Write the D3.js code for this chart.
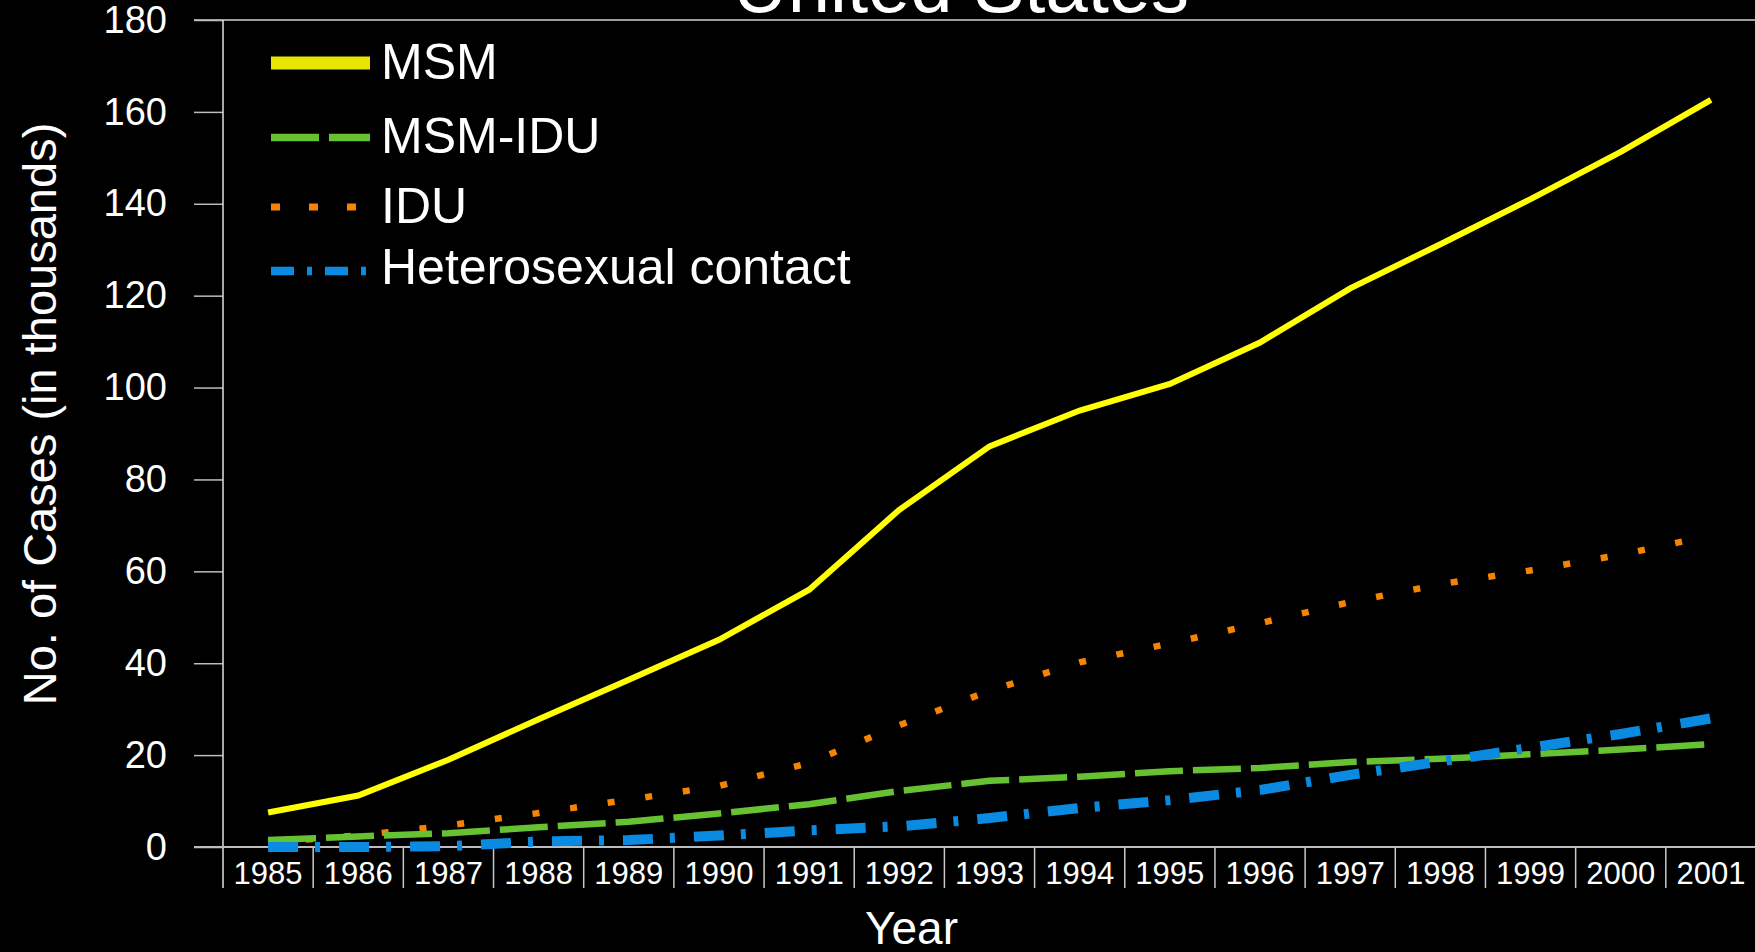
<!DOCTYPE html>
<html>
<head>
<meta charset="utf-8">
<script src="https://cdn.jsdelivr.net/npm/d3@7"></script>
<style>
  html, body { margin: 0; padding: 0; background: #000; overflow: hidden; }
  svg { display: block; font-family: "Liberation Sans", Arial, sans-serif; }
</style>
</head>
<body>
<div id="chart"></div>
<script>
// Years on the x axis
const years = ["1985", "1986", "1987", "1988", "1989", "1990", "1991", "1992", "1993",
  "1994", "1995", "1996", "1997", "1998", "1999", "2000", "2001"]

// Cases in thousands
const msm = [7.5, 11.2, 19, 27.8, 36.4, 45.1, 56, 73.4, 87.2, 95, 100.8, 109.8, 121.6, 131.2, 141, 151.3, 162.6]
const msmIdu = [1.5, 2.3, 3, 4.3, 5.5, 7.3, 9.3, 12.2, 14.4, 15.3, 16.5, 17.2, 18.5, 19.2, 20.2, 21.2, 22.4]
const idu = [1, 2.5, 4.7, 7.4, 10.3, 13.3, 18.3, 26.5, 34, 40.2, 44.3, 48.7, 53.3, 57.2, 60.2, 63.6, 67.8]
const hetero = [0, 0, 0.2, 1.2, 1.5, 2.5, 3.6, 4.5, 6.3, 8.5, 10.2, 12.4, 15.7, 18.6, 21.6, 24.6, 28]

const yTicks = [0, 20, 40, 60, 80, 100, 120, 140, 160, 180]
const seriesNames = ["MSM", "MSM-IDU", "IDU", "Heterosexual contact"]

const width = 1755
const height = 952
const margin = { top: 20, right: -1, bottom: 105, left: 223 }

const svg = d3.select("#chart")
  .append("svg")
  .attr("width", width)
  .attr("height", height)

svg.append("rect").attr("width", width).attr("height", height).attr("fill", "#000")

const x = d3.scaleBand()
  .domain(years)
  .range([margin.left, width - margin.right])
  .padding(0)

const y = d3.scaleLinear()
  .domain([0, 180])
  .range([height - margin.bottom, margin.top])

// chart title, mostly cut off at the top edge (as in the slide)
svg.append("text")
  .attr("x", 961)
  .attr("y", 12)
  .attr("text-anchor", "middle")
  .attr("fill", "#fff")
  .attr("font-size", 76)
  .text("United States")

// frame line across the top
svg.append("line")
  .attr("x1", margin.left - 29).attr("x2", width)
  .attr("y1", y(180)).attr("y2", y(180))
  .attr("stroke", "#cfcfcf").attr("stroke-width", 1.5)

// y axis
const yAxis = svg.append("g")
  .attr("transform", `translate(${margin.left},0)`)
  .call(d3.axisLeft(y).tickValues(yTicks).tickSize(29).tickPadding(27))

yAxis.select(".domain").remove()
yAxis.selectAll(".tick line").attr("stroke", "#bdbdbd").attr("stroke-width", 1.5)
yAxis.selectAll(".tick text")
  .attr("fill", "#fff")
  .attr("font-size", 38)
  .attr("font-family", "'Liberation Sans', Arial, sans-serif")

svg.append("line")
  .attr("x1", margin.left).attr("x2", margin.left)
  .attr("y1", y(180)).attr("y2", y(0) + 41)
  .attr("stroke", "#e0e0e0").attr("stroke-width", 1.5)

// x axis with category separators
svg.append("line")
  .attr("x1", margin.left - 29).attr("x2", width)
  .attr("y1", y(0)).attr("y2", y(0))
  .attr("stroke", "#bdbdbd").attr("stroke-width", 2)

const xAxis = svg.append("g")
  .attr("transform", `translate(0,${y(0)})`)
  .call(d3.axisBottom(x).tickSize(0).tickPadding(0))

xAxis.select(".domain").remove()
xAxis.selectAll(".tick text")
  .attr("fill", "#fff")
  .attr("font-size", 31)
  .attr("font-family", "'Liberation Sans', Arial, sans-serif")
  .attr("dy", null)
  .attr("y", 37)

svg.append("g")
  .selectAll("line")
  .data(years.slice(1))
  .join("line")
  .attr("x1", d => x(d)).attr("x2", d => x(d))
  .attr("y1", y(0)).attr("y2", y(0) + 41)
  .attr("stroke", "#c8c8c8").attr("stroke-width", 1.5)

// axis titles
svg.append("text")
  .attr("x", 865)
  .attr("y", 944)
  .attr("fill", "#fff")
  .attr("font-size", 46)
  .text("Year")

svg.append("text")
  .attr("transform", "translate(56,414) rotate(-90)")
  .attr("text-anchor", "middle")
  .attr("fill", "#fff")
  .attr("font-size", 47)
  .text("No. of Cases (in thousands)")

// series styles
const series = [
  { name: "MSM", values: msm, color: "#ffff00", legendColor: "#e8e600", width: 6, dash: null, legendWidth: 13, legendDash: null },
  { name: "IDU", values: idu, color: "#f58400", legendColor: "#f58400", width: 6.5, dash: "7,31", legendWidth: 7, legendDash: "9,29" },
  { name: "MSM-IDU", values: msmIdu, color: "#66c133", legendColor: "#66c133", width: 6.5, dash: "48,10", legendWidth: 7.5, legendDash: "48,10" },
  { name: "Heterosexual contact", values: hetero, color: "#0a8ae0", legendColor: "#0a8ae0", width: 10, dash: "30,17,5,19", legendWidth: 8.5, legendDash: "23,13,5,13" }
]

const line = d3.line()
  .x(d => x(d.year) + x.bandwidth() / 2)
  .y(d => y(d.value))

svg.append("g")
  .selectAll("path")
  .data(series)
  .join("path")
  .attr("d", s => line(years.map((yr, i) => ({ year: yr, value: s.values[i] }))))
  .attr("fill", "none")
  .attr("stroke", s => s.color)
  .attr("stroke-width", s => s.width)
  .attr("stroke-dasharray", s => s.dash)
  .attr("stroke-linejoin", "miter")

// legend
const legendRows = [
  { lineY: 63, textY: 79 },
  { lineY: 137.5, textY: 153 },
  { lineY: 207, textY: 223 },
  { lineY: 271, textY: 284 }
]

const legend = svg.append("g")
seriesNames.forEach((name, i) => {
  const s = series.find(d => d.name === name)
  const row = legendRows[i]
  legend.append("line")
    .attr("x1", 271).attr("x2", 370)
    .attr("y1", row.lineY).attr("y2", row.lineY)
    .attr("stroke", s.legendColor)
    .attr("stroke-width", s.legendWidth)
    .attr("stroke-dasharray", s.legendDash)
  legend.append("text")
    .attr("x", 381)
    .attr("y", row.textY)
    .attr("fill", "#fff")
    .attr("font-size", 50)
    .text(name)
})
</script>
</body>
</html>
